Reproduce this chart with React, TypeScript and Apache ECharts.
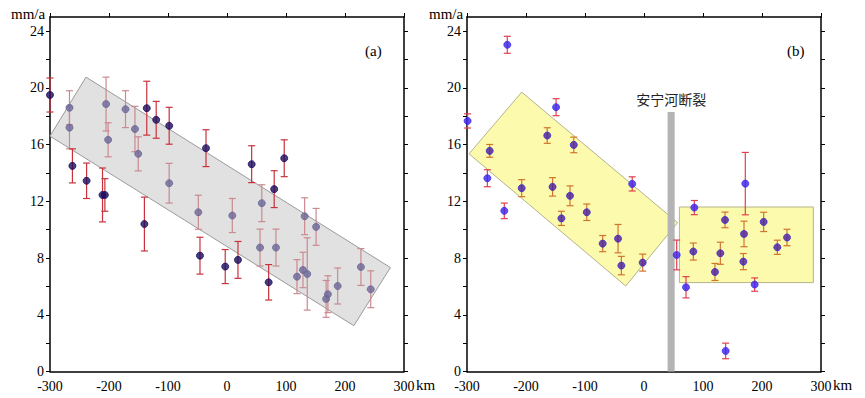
import React, { useEffect, useRef } from "react";
import * as echarts from "echarts";

// ---------- Panel (a) ----------
const aX = [-300, -267, -267, -262, -238, -211, -207, -205, -201.5, -172, -156, -150.5, -140, -136, -120, -98, -98, -48.6, -45.8, -35.6, -3, 9, 18.6, 41.8, 56, 59, 70.6, 80, 83, 97, 118.6, 128.8, 131.6, 136, 151, 168, 171, 187.6, 227, 243.6];
const aY = [19.5, 18.6, 17.2, 14.5, 13.45, 12.45, 12.45, 18.86, 16.34, 18.5, 17.1, 15.35, 10.4, 18.57, 17.75, 17.33, 13.28, 11.23, 8.17, 15.75, 7.4, 11.0, 7.87, 14.62, 8.74, 11.87, 6.29, 12.86, 8.74, 15.04, 6.69, 7.16, 10.95, 6.88, 10.2, 5.12, 5.45, 6.03, 7.37, 5.8];
const aErr = [1.2, 1.2, 1.5, 1.2, 1.25, 1.9, 1.15, 1.9, 1.2, 1.3, 1.6, 1.2, 1.9, 1.9, 1.3, 1.3, 1.4, 1.2, 1.3, 1.3, 1.2, 1.2, 1.3, 1.3, 1.3, 1.3, 1.25, 1.3, 1.3, 1.3, 1.2, 1.25, 1.3, 2.55, 1.3, 1.3, 1.3, 1.27, 1.3, 1.3];
// 1 = inside the shaded band
const aIn = [0, 1, 1, 0, 0, 0, 0, 1, 1, 1, 1, 1, 0, 0, 0, 0, 1, 1, 0, 0, 0, 1, 0, 0, 1, 1, 0, 0, 1, 0, 1, 1, 1, 1, 1, 1, 1, 1, 1, 1];
const bandAX = [-239, 277, 215, -300];
const bandAY = [20.76, 7.33, 3.23, 16.6];

// ---------- Panel (b) ----------
const bX = [-299, -265.5, -261.5, -231.7, -236.8, -207.3, -164, -155, -149, -140, -125.4, -119, -97, -70, -44, -38.4, -20, -2.2, 55.4, 71.2, 85.3, 83.6, 120.3, 129.4, 137.3, 138.4, 168.4, 169.5, 171.7, 187.6, 202.8, 226, 242.4];
const bY = [17.67, 13.63, 15.56, 23.04, 11.33, 12.93, 16.64, 13.02, 18.64, 10.8, 12.39, 15.98, 11.23, 9.02, 9.37, 7.47, 13.23, 7.68, 8.22, 5.94, 11.56, 8.46, 7.02, 8.34, 10.69, 1.45, 7.75, 9.7, 13.25, 6.13, 10.55, 8.76, 9.45];
const bErr = [0.5, 0.6, 0.45, 0.6, 0.55, 0.6, 0.55, 0.65, 0.6, 0.5, 0.7, 0.55, 0.58, 0.57, 1.0, 0.65, 0.5, 0.6, 1.05, 0.75, 0.5, 0.6, 0.6, 0.78, 0.55, 0.55, 0.57, 0.9, 2.2, 0.47, 0.68, 0.5, 0.58];
const bIn = [0, 0, 1, 0, 0, 1, 1, 1, 0, 1, 1, 1, 1, 1, 1, 1, 0, 1, 0, 0, 0, 1, 1, 1, 1, 0, 1, 1, 0, 0, 1, 1, 1];
const bandB1X = [-207.3, 57, -31, -296.6];
const bandB1Y = [19.7, 10.5, 6.03, 15.35];
const bandB2X = [60, 287, 287, 60];
const bandB2Y = [11.6, 11.6, 6.27, 6.27];
const faultX = [40, 52];
const faultY = [0, 18.3];
const faultName = "安宁河断裂";

const xTicks = [-300, -200, -100, 0, 100, 200, 300];
const yTicks = [0, 2, 4, 6, 8, 10, 12, 14, 16, 18, 20, 22, 24];

const SERIF = "Liberation Serif";

function axesFor(gi: number) {
  const line = { lineStyle: { color: "#000", width: 1.5 } };
  const xs = [
    {
      gridIndex: gi, type: "value", position: "bottom", min: -300, max: 300, interval: 100,
      axisLine: { show: true, onZero: false, ...line }, axisTick: { show: false }, splitLine: { show: false },
      axisLabel: { color: "#000", fontFamily: SERIF, fontSize: 14, margin: 8, customValues: xTicks },
    },
    {
      gridIndex: gi, type: "value", position: "top", min: -300, max: 300, interval: 100,
      axisLine: { show: true, onZero: false, ...line },
      axisTick: { show: true, length: 4, inside: false, lineStyle: { color: "#000" } },
      axisLabel: { show: false }, splitLine: { show: false },
    },
  ];
  const ys = [
    {
      gridIndex: gi, type: "value", position: "left", min: 0, max: 25,
      axisLine: { show: true, onZero: false, ...line },
      axisTick: { show: true, length: 4, customValues: yTicks, lineStyle: { color: "#000" } },
      axisLabel: { color: "#000", fontFamily: SERIF, fontSize: 14, margin: 6, customValues: yTicks.filter((v) => v % 4 === 0) },
      splitLine: { show: false },
    },
    {
      gridIndex: gi, type: "value", position: "right", min: 0, max: 25,
      axisLine: { show: true, onZero: false, ...line },
      axisTick: { show: true, length: 4, customValues: yTicks, lineStyle: { color: "#000" } },
      axisLabel: { show: false }, splitLine: { show: false },
    },
  ];
  return { xs, ys };
}

function polygonSeries(xi: number, yi: number, px: number[], py: number[], fill: string, stroke: string, z: number) {
  return {
    type: "custom", xAxisIndex: xi, yAxisIndex: yi, z, silent: true, clip: false,
    data: [[px[0], py[0]]],
    renderItem: (_p: any, api: any) => ({
      type: "polygon",
      shape: { points: px.map((x, i) => api.coord([x, py[i]])) },
      style: { fill, stroke, lineWidth: 1 },
    }),
  };
}

function errorSeries(xi: number, yi: number, xs: number[], ys: number[], es: number[], gs: number[], cOut: string, cIn: string) {
  return {
    type: "custom", xAxisIndex: xi, yAxisIndex: yi, z: 5, silent: true, clip: false,
    data: xs.map((x, i) => [x, ys[i], es[i], gs[i]]),
    encode: { x: 0, y: 1 },
    renderItem: (_p: any, api: any) => {
      const x = api.value(0), y = api.value(1), e = api.value(2), g = api.value(3);
      const t = api.coord([x, y + e]);
      const b = api.coord([x, y - e]);
      const style = { stroke: g ? cIn : cOut, lineWidth: 1.2 };
      const w = 3.5;
      return {
        type: "group",
        children: [
          { type: "line", shape: { x1: t[0], y1: t[1], x2: b[0], y2: b[1] }, style },
          { type: "line", shape: { x1: t[0] - w, y1: t[1], x2: t[0] + w, y2: t[1] }, style },
          { type: "line", shape: { x1: b[0] - w, y1: b[1], x2: b[0] + w, y2: b[1] }, style },
        ],
      };
    },
  };
}

function pointSeries(xi: number, yi: number, xs: number[], ys: number[], gs: number[], cOut: string, cIn: string, bOut: string, bIn: string) {
  return {
    type: "scatter", xAxisIndex: xi, yAxisIndex: yi, z: 6, symbolSize: 7, clip: false, silent: true,
    data: xs.map((x, i) => ({
      value: [x, ys[i]],
      itemStyle: { color: gs[i] ? cIn : cOut, borderColor: gs[i] ? bIn : bOut, borderWidth: 1 },
    })),
  };
}

export default function App() {
  const ref = useRef<HTMLDivElement>(null);
  useEffect(() => {
    if (!ref.current) return;
    const chart = echarts.init(ref.current, undefined, { renderer: "svg" });
    const A = axesFor(0);
    const B = axesFor(1);
    const txt = (left: number, top: number, text: string) => ({
      type: "text", left, top, style: { text, fontFamily: SERIF, fontSize: 15, fill: "#000" },
    });
    const option: any = {
      animation: false,
      backgroundColor: "#fff",
      grid: [
        { left: 50, top: 17, width: 354, height: 354.5 },
        { left: 467, top: 17, width: 354, height: 354.5 },
      ],
      xAxis: [...A.xs, ...B.xs],
      yAxis: [...A.ys, ...B.ys],
      graphic: [
        txt(11, 6, "mm/a"),
        txt(429, 6, "mm/a"),
        txt(416, 377, "km"),
        txt(833, 377, "km"),
        txt(365, 43, "(a)"),
        txt(787, 43, "(b)"),
      ],
      series: [
        polygonSeries(0, 0, bandAX, bandAY, "rgba(222,222,222,0.9)", "#9a9a9a", 1),
        errorSeries(0, 0, aX, aY, aErr, aIn, "#c8323c", "#c98a90"),
        pointSeries(0, 0, aX, aY, aIn, "#1c0d5e", "#6c6796", "#1c0d5e", "#6c6796"),

        polygonSeries(2, 2, bandB1X, bandB1Y, "rgba(252,250,168,0.95)", "#b5b38a", 1),
        polygonSeries(2, 2, bandB2X, bandB2Y, "rgba(252,250,168,0.95)", "#b5b38a", 1),
        {
          type: "custom", xAxisIndex: 2, yAxisIndex: 2, z: 2, silent: true, clip: false,
          data: [[faultX[0], faultY[1]]],
          renderItem: (_p: any, api: any) => {
            const p1 = api.coord([faultX[0], faultY[1]]);
            const p2 = api.coord([faultX[1], faultY[0]]);
            const lab = api.coord([(faultX[0] + faultX[1]) / 2, faultY[1] + 0.9]);
            return {
              type: "group",
              children: [
                { type: "rect", shape: { x: p1[0], y: p1[1], width: p2[0] - p1[0], height: p2[1] - p1[1] }, style: { fill: "#b4b4b4" } },
                {
                  type: "text", x: lab[0], y: lab[1],
                  style: { text: faultName, fontFamily: "Noto Sans CJK SC", fontSize: 14, fill: "#222", align: "center", verticalAlign: "middle" },
                },
              ],
            };
          },
        },
        errorSeries(2, 2, bX, bY, bErr, bIn, "#e0404e", "#d2742e"),
        pointSeries(2, 2, bX, bY, bIn, "#3a20f0", "#4a1c9e", "#3a30e8", "#3a2cd0"),
      ],
    };
    chart.setOption(option);
    return () => chart.dispose();
  }, []);
  return <div ref={ref} style={{ position: "fixed", left: 0, top: 0, width: 865, height: 398 }} />;
}
